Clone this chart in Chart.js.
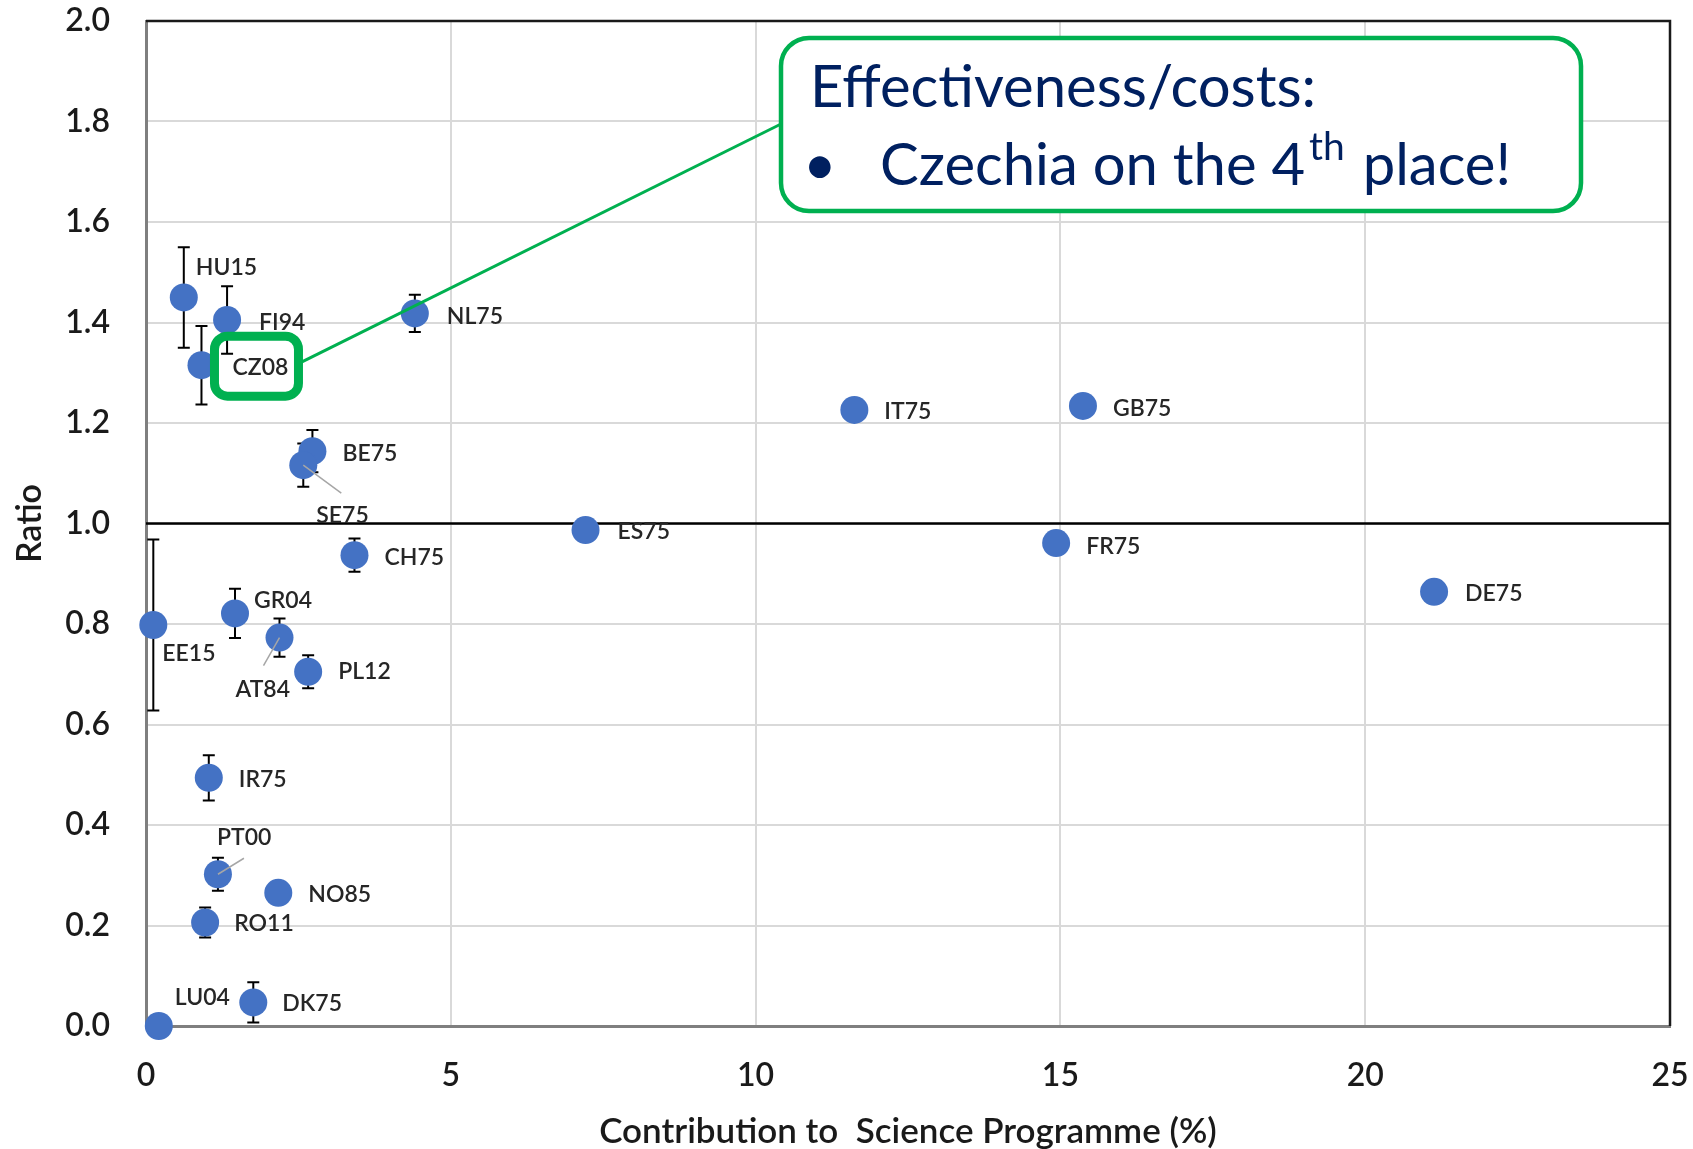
<!DOCTYPE html>
<html>
<head>
<meta charset="utf-8">
<script src="https://cdn.jsdelivr.net/npm/chart.js@4/dist/chart.umd.min.js"></script>
<style>
  body { margin: 0; background: #fff; }
  canvas { display: block; }
</style>
</head>
<body>
<canvas id="ratioChart" width="1693" height="1149"></canvas>
<script>
const codes = ['HU15', 'FI94', 'CZ08', 'NL75', 'BE75', 'SE75', 'CH75', 'ES75', 'IT75', 'GB75', 'FR75',
    'DE75', 'EE15', 'GR04', 'AT84', 'PL12', 'IR75', 'PT00', 'NO85', 'RO11', 'LU04', 'DK75'];
const contribution = [0.62, 1.33, 0.91, 4.41, 2.73, 2.58, 3.42, 7.21, 11.62, 15.37, 14.93,
    21.13, 0.12, 1.46, 2.19, 2.66, 1.03, 1.18, 2.17, 0.97, 0.21, 1.76];
const ratio = [1.45, 1.405, 1.315, 1.418, 1.144, 1.116, 0.937, 0.987, 1.226, 1.234, 0.961,
    0.864, 0.798, 0.821, 0.773, 0.705, 0.494, 0.302, 0.265, 0.206, 0.0, 0.047];
const ratioErr = [0.10, 0.067, 0.078, 0.037, 0.042, 0.043, 0.033, 0, 0, 0, 0,
    0, 0.17, 0.049, 0.038, 0.033, 0.045, 0.033, 0, 0.03, 0, 0.04];
const xTicks = [0, 5, 10, 15, 20, 25];
const yTicks = [0, 0.2, 0.4, 0.6, 0.8, 1.0, 1.2, 1.4, 1.6, 1.8, 2.0];
const referenceRatio = 1.0;
const highlighted = 'CZ08';

const colorPoint = '#4472C4';
const colorGreen = '#00B050';
const colorNavy = '#002060';
const colorText = '#1a1a1a';
const fontFamily = 'Lato, "Noto Sans", sans-serif';

// label placement: [dx, dy] from the point centre to the text's left/middle
const labelOffsets = {
    HU15: [12, -30], FI94: [32, 3], CZ08: [31, 2], NL75: [32, 3], BE75: [30, 2], SE75: [13, 50],
    CH75: [30, 2], ES75: [32, 2], IT75: [30, 2], GB75: [30, 3], FR75: [30, 3], DE75: [31, 2],
    EE15: [9, 29], GR04: [19, -13], AT84: [-44, 52], PL12: [30, 0], IR75: [30, 2], PT00: [-1, -37],
    NO85: [30, 2], RO11: [29, 1], LU04: [16, -28], DK75: [29, 1]
};
// thin leader lines: end point relative to the point centre
const leaders = { SE75: [38, 28], AT84: [-16, 28], PT00: [26, -16] };

const points = codes.map((c, i) => ({x: contribution[i], y: ratio[i]}));

// ================ ERROR BARS =====================================
const errorBars = {
    id: 'errorBars',
    beforeDatasetsDraw(chart) {
        const {ctx, scales: {x, y}} = chart;
        ctx.save();
        ctx.strokeStyle = '#000';
        ctx.lineWidth = 2;
        codes.forEach((c, i) => {
            if (!ratioErr[i]) return;
            const px = x.getPixelForValue(contribution[i]);
            const top = y.getPixelForValue(ratio[i] + ratioErr[i]);
            const bot = y.getPixelForValue(ratio[i] - ratioErr[i]);
            ctx.beginPath();
            ctx.moveTo(px, top); ctx.lineTo(px, bot);
            ctx.moveTo(px - 6, top); ctx.lineTo(px + 6, top);
            ctx.moveTo(px - 6, bot); ctx.lineTo(px + 6, bot);
            ctx.stroke();
        });
        ctx.restore();
    }
};

// ================ LABELS + ANNOTATIONS =====================================
function roundRect(ctx, x, y, w, h, r) {
    ctx.beginPath();
    ctx.moveTo(x + r, y);
    ctx.arcTo(x + w, y, x + w, y + h, r);
    ctx.arcTo(x + w, y + h, x, y + h, r);
    ctx.arcTo(x, y + h, x, y, r);
    ctx.arcTo(x, y, x + w, y, r);
    ctx.closePath();
}

const overlay = {
    id: 'overlay',
    afterDatasetsDraw(chart) {
        const {ctx, chartArea, scales: {x, y}} = chart;
        ctx.save();

        // top and right frame
        ctx.strokeStyle = '#1a1a1a';
        ctx.lineWidth = 2.5;
        ctx.beginPath();
        ctx.moveTo(chartArea.left, chartArea.top);
        ctx.lineTo(chartArea.right, chartArea.top);
        ctx.lineTo(chartArea.right, chartArea.bottom);
        ctx.stroke();

        // leader lines
        ctx.strokeStyle = '#a6a6a6';
        ctx.lineWidth = 1.5;
        Object.keys(leaders).forEach(c => {
            const i = codes.indexOf(c);
            const px = x.getPixelForValue(contribution[i]);
            const py = y.getPixelForValue(ratio[i]);
            ctx.beginPath();
            ctx.moveTo(px, py);
            ctx.lineTo(px + leaders[c][0], py + leaders[c][1]);
            ctx.stroke();
        });

        // point labels
        ctx.fillStyle = '#262626';
        ctx.font = '600 23px ' + fontFamily;
        ctx.textBaseline = 'middle';
        ctx.textAlign = 'left';
        codes.forEach((c, i) => {
            const off = labelOffsets[c] || [28, 0];
            ctx.fillText(c, x.getPixelForValue(contribution[i]) + off[0], y.getPixelForValue(ratio[i]) + off[1]);
        });

        // highlight box around CZ08 and connector to the callout
        const hi = codes.indexOf(highlighted);
        const hx = x.getPixelForValue(contribution[hi]);
        const hy = y.getPixelForValue(ratio[hi]);
        const callout = {x: 781, y: 38, w: 800, h: 173};
        ctx.strokeStyle = colorGreen;
        ctx.lineWidth = 3;
        ctx.beginPath();
        ctx.moveTo(hx + 100, hy - 3);
        ctx.lineTo(callout.x, callout.y + 86);
        ctx.stroke();
        ctx.lineWidth = 9;
        roundRect(ctx, hx + 13, hy - 29, 84, 60, 13);
        ctx.stroke();

        // callout box
        roundRect(ctx, callout.x, callout.y, callout.w, callout.h, 28);
        ctx.fillStyle = '#fff';
        ctx.fill();
        ctx.lineWidth = 4.5;
        ctx.stroke();

        ctx.fillStyle = colorNavy;
        ctx.textBaseline = 'alphabetic';
        ctx.font = '58px ' + fontFamily;
        ctx.fillText('Effectiveness/costs:', callout.x + 29, callout.y + 69);
        ctx.fillText('\u2022', callout.x + 22, callout.y + 147);
        let tx = callout.x + 99;
        const base = callout.y + 147;
        const part1 = 'Czechia on the 4';
        ctx.fillText(part1, tx, base);
        tx += ctx.measureText(part1).width + 4;
        ctx.font = '39px ' + fontFamily;
        ctx.fillText('th', tx, base - 25);
        tx += ctx.measureText('th').width + 3;
        ctx.font = '58px ' + fontFamily;
        ctx.fillText(' place!', tx, base);

        ctx.restore();
    }
};

// ================ SCATTER CHART =====================================
const ratioChartData = {
    type: 'scatter',
    data: {
        datasets: [{
            label: 'Ratio',
            data: points,
            backgroundColor: colorPoint,
            borderWidth: 0,
            pointRadius: 14,
            clip: false,
            order: 0
        }, {
            type: 'line',
            label: 'Reference',
            data: [{x: xTicks[0], y: referenceRatio}, {x: xTicks[xTicks.length - 1], y: referenceRatio}],
            borderColor: '#000',
            borderWidth: 2.5,
            pointRadius: 0,
            order: 1
        }]
    },
    options: {
        responsive: false,
        animation: false,
        layout: {padding: {top: 21, right: 23, left: 0, bottom: 0}},
        plugins: {
            legend: {display: false},
            tooltip: {enabled: false}
        },
        scales: {
            x: {
                type: 'linear',
                min: xTicks[0],
                max: xTicks[xTicks.length - 1],
                afterFit: (scale) => {
                    scale.height = 123;
                    scale.paddingLeft = 0;
                    scale.paddingRight = 0;
                },
                afterBuildTicks: (scale) => { scale.ticks = xTicks.map(v => ({value: v})); },
                grid: {color: '#d9d9d9', lineWidth: 2, drawTicks: false},
                border: {color: '#7f7f7f', width: 3},
                ticks: {color: colorText, font: {family: fontFamily, size: 32, weight: '600'}, padding: 30},
                title: {
                    display: true,
                    text: 'Contribution to  Science Programme (%)',
                    color: colorText,
                    font: {family: fontFamily, size: 35, weight: '600', lineHeight: 1.0},
                    padding: {top: 0, bottom: 0}
                }
            },
            y: {
                type: 'linear',
                min: yTicks[0],
                max: yTicks[yTicks.length - 1],
                afterFit: (scale) => {
                    scale.width = 146;
                    scale.paddingTop = 0;
                    scale.paddingBottom = 0;
                },
                afterBuildTicks: (scale) => { scale.ticks = yTicks.map(v => ({value: v})); },
                grid: {color: '#d9d9d9', lineWidth: 2, drawTicks: false},
                border: {color: '#7f7f7f', width: 3},
                ticks: {
                    color: colorText,
                    font: {family: fontFamily, size: 32, weight: '600'},
                    padding: 36,
                    callback: (v) => v.toFixed(1)
                },
                title: {
                    display: true,
                    text: 'Ratio',
                    color: colorText,
                    font: {family: fontFamily, size: 34, weight: '600', lineHeight: 1.2},
                    padding: {top: 10, bottom: 0}
                }
            }
        }
    },
    plugins: [errorBars, overlay]
};

const ratioChart = new Chart(document.getElementById('ratioChart'), ratioChartData);
</script>
</body>
</html>
